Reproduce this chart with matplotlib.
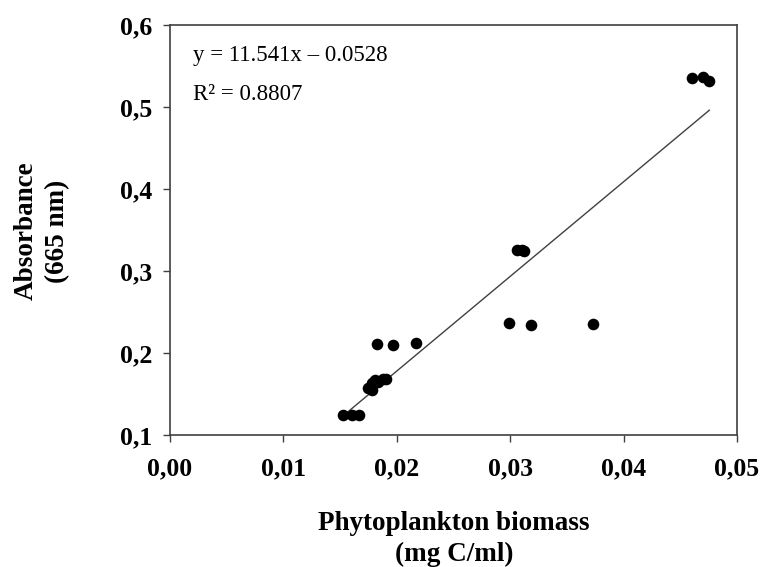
import matplotlib
matplotlib.use("Agg")
import matplotlib.pyplot as plt
import numpy as np

# Data
biomass = [0.01528, 0.01602, 0.01669,
           0.01749, 0.01779, 0.01781, 0.01808, 0.01837, 0.01881, 0.01905,
           0.01823, 0.01969, 0.02169,
           0.02992, 0.03183, 0.03733,
           0.03063, 0.03101, 0.03122,
           0.04600, 0.04703, 0.04756]
absorbance = [0.125, 0.125, 0.125,
              0.157, 0.163, 0.155, 0.167, 0.165, 0.168, 0.168,
              0.211, 0.210, 0.212,
              0.236, 0.234, 0.235,
              0.326, 0.326, 0.325,
              0.535, 0.536, 0.532]
slope = 11.541
intercept = -0.0528
eq_text = "y = 11.541x \u2013 0.0528"
r2_text = "R\u00b2 = 0.8807"
xticks = [0.00, 0.01, 0.02, 0.03, 0.04, 0.05]
xticklabels = ["0,00", "0,01", "0,02", "0,03", "0,04", "0,05"]
yticks = [0.1, 0.2, 0.3, 0.4, 0.5, 0.6]
yticklabels = ["0,1", "0,2", "0,3", "0,4", "0,5", "0,6"]

serif = "Liberation Serif"

fig = plt.figure(figsize=(7.61, 5.67), dpi=100)
ax = fig.add_axes([170/761, 1-435/567, (737-170)/761, (435-25)/567])

ax.scatter(biomass, absorbance, s=70, color="black", zorder=3, linewidths=0)
xl = np.array([min(biomass), max(biomass)])
ax.plot(xl, slope*xl + intercept, color="#404040", lw=1.0, zorder=2)

ax.set_xlim(0, 0.05)
ax.set_ylim(0.1, 0.6)
ax.set_xticks(xticks)
ax.set_xticklabels(xticklabels)
ax.set_yticks(yticks)
ax.set_yticklabels(yticklabels)
for lab in ax.get_xticklabels() + ax.get_yticklabels():
    lab.set_fontfamily(serif)
    lab.set_fontweight("bold")
    lab.set_fontsize(18.5)
ax.tick_params(axis="both", direction="out", length=5, width=1, color="#404040")
ax.tick_params(axis="x", pad=11)
ax.tick_params(axis="y", pad=8)
for sp in ax.spines.values():
    sp.set_color("#404040")
    sp.set_linewidth(1.2)

ax.text(0.0020, 0.563, eq_text, fontfamily=serif, fontsize=16.5, va="center", ha="left")
ax.text(0.0020, 0.515, r2_text, fontfamily=serif, fontsize=16.5, va="center", ha="left")

fig.text(42/761, 1-231/567, "Absorbance\n(665 nm)", rotation=90, fontfamily=serif,
         fontweight="bold", fontsize=19.5, ha="center", va="center", linespacing=1.3)
fig.text(454/761, 1-539/567, "Phytoplankton biomass\n(mg C/ml)", fontfamily=serif,
         fontweight="bold", fontsize=19.5, ha="center", va="center", linespacing=1.3)

fig.savefig("out.png", dpi=100)
